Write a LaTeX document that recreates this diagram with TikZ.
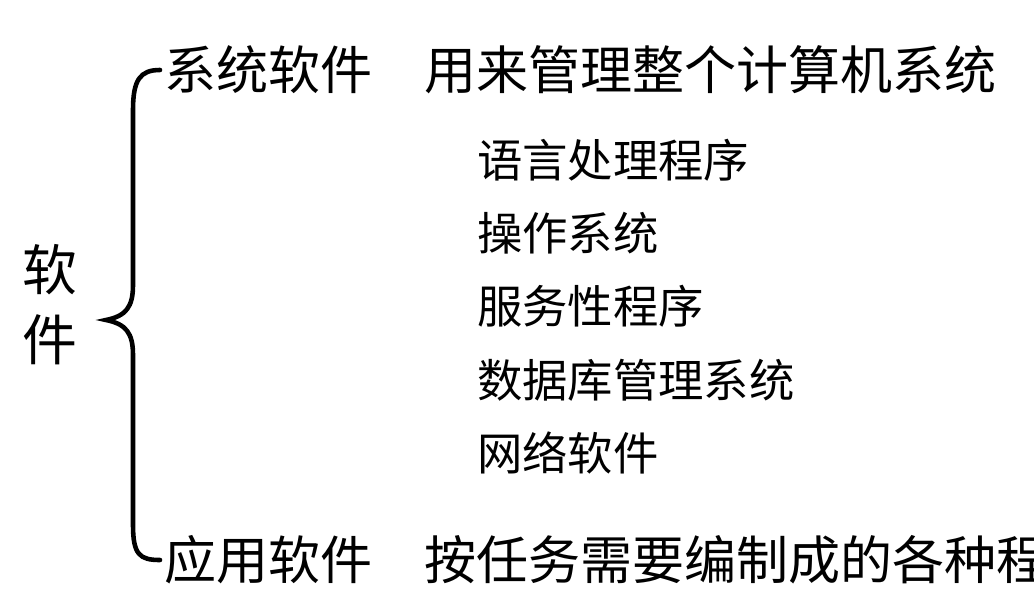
\documentclass[tikz,border=0pt]{standalone}
\usepackage{fontspec}
\setmainfont{Noto Sans CJK SC}
\usetikzlibrary{positioning}
\newcommand\listnode[3]{%
  \node[listitem,below=of #2.base west,anchor=base west] (#1) {#3};
}

\begin{document}
\begin{tikzpicture}[
x=0.01cm, y=-0.01cm,
node distance=0.733cm,
every node/.style={inner sep=0pt, outer sep=0pt},
headtext/.style={anchor=west, font=\fontsize{14.8pt}{17pt}\selectfont},
listitem/.style={font=\fontsize{12.9pt}{15pt}\selectfont},
brace/.style={line width=1.3pt, line cap=round}
]
\useasboundingbox (0,0) rectangle (1034,591);
\node[font=\fontsize{15.6pt}{19.9pt}\selectfont, align=center] (soft) at (50,305) {软\\件};
\node[headtext] (sys) at (164,70) {系统软件};
\node[headtext] (sysdesc) at (424,70) {用来管理整个计算机系统};
\node[headtext] (app) at (164,560) {应用软件};
\node[headtext] (appdesc) at (424,560) {按任务需要编制成的各种程};
% list under the system software
\node[listitem, anchor=west] (lang) at (477,160) {语言处理程序};
\listnode{os}{lang}{操作系统}
\listnode{serv}{os}{服务性程序}
\listnode{dbms}{serv}{数据库管理系统}
\listnode{net}{dbms}{网络软件}
% brace
\coordinate (tip) at (106,320);
\draw[brace] ([xshift=-0.04cm]sys.west) .. controls +(-20,0) and +(0,-30) .. (133,110)
  -- (133,285) .. controls +(0,22) and +(20,-4) .. (tip)
  .. controls +(20,4) and +(0,-22) .. (133,355)
  -- (133,525) .. controls +(0,30) and +(-20,0) .. ([xshift=-0.04cm]app.west);
\end{tikzpicture}
\end{document}
